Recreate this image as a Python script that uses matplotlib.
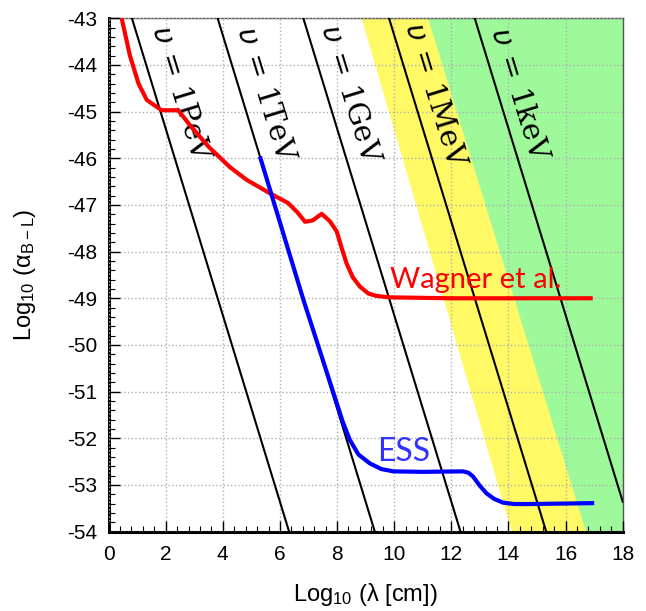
import numpy as np
import matplotlib
matplotlib.use('Agg')
import matplotlib.pyplot as plt
from matplotlib.ticker import MultipleLocator

# --- data ---
# Wagner et al. limit (red)
wagner_x = [0.46, 0.75, 1.05, 1.34, 1.86, 2.44, 2.85, 3.5, 4.25, 4.83, 5.65, 6.29,
            6.6, 6.88, 7.15, 7.46, 7.75, 7.99, 8.15, 8.33, 8.55, 8.80, 9.1, 9.38, 9.85, 12.0, 16.95]
wagner_y = [-43.0, -43.8, -44.4, -44.75, -44.97, -44.97, -45.29, -45.75, -46.19, -46.46,
            -46.75, -46.96, -47.15, -47.36, -47.33, -47.19, -47.35, -47.57, -47.9, -48.25,
            -48.55, -48.75, -48.9, -48.95, -48.98, -49.0, -49.0]

# ESS sensitivity (blue)
ess_x = [5.30, 6.82, 7.99, 8.20, 8.45, 8.75, 9.15, 9.55, 9.97, 11.0, 12.41, 12.6,
         12.76, 13.0, 13.23, 13.5, 13.81, 14.2, 14.75, 17.0]
ess_y = [-45.96, -49.03, -51.25, -51.65, -52.04, -52.35, -52.54, -52.66, -52.71, -52.72,
         -52.71, -52.74, -52.82, -53.02, -53.18, -53.3, -53.38, -53.41, -53.41, -53.39]

# mass lines: log10(alpha) = -43 - 2*(log10(lambda) - x0)
line_x0 = [0.82, 3.82, 6.82, 9.82, 12.82]
line_labels = ['1PeV', '1TeV', '1GeV', '1MeV', '1keV']
label_x = [2.52, 5.48, 8.45, 11.42, 14.36]
label_y = [-44.62, -44.62, -44.62, -44.64, -44.64]

# shaded bands: x at top (y=-43) and bottom (y=-54) edges
yellow_top = [8.86, 11.19]
yellow_bot = [14.11, 16.73]
green_top = [11.19, 18.0]
green_bot = [16.73, 18.0]

xmin, xmax = 0, 18
ymin, ymax = -54, -43

plt.rcParams['font.family'] = ['Liberation Sans', 'DejaVu Sans']
plt.rcParams['axes.unicode_minus'] = False

fig = plt.figure(figsize=(6.46, 6.11), dpi=100)
ax = fig.add_axes([0.168, 0.13, 0.796, 0.84])

# bands
ax.fill([yellow_top[0], yellow_top[1], yellow_bot[1], yellow_bot[0]],
        [ymax, ymax, ymin, ymin], color='#fff966', lw=0, zorder=1)
ax.fill([green_top[0], green_top[1], green_bot[1], green_bot[0]],
        [ymax, ymax, ymin, ymin], color='#9ef99a', lw=0, zorder=1)

# mass lines
xx = np.array([xmin, xmax])
for x0 in line_x0:
    ax.plot(xx, ymax - 2 * (xx - x0), color='black', lw=1.5, zorder=3)

# rotated labels along lines
ang = np.degrees(np.arctan2(2 * 0.84 * 6.11 / (ymax - ymin), 0.796 * 6.46 / (xmax - xmin)))
for lx, ly, lab in zip(label_x, label_y, line_labels):
    ax.text(lx, ly, r'$\upsilon\,=\,$' + lab, rotation=-ang, rotation_mode='anchor',
            ha='center', va='center', fontsize=21, family='DejaVu Serif', zorder=4)

ax.plot(wagner_x, wagner_y, color='#ff0000', lw=3, zorder=5, solid_capstyle='butt')
ax.plot(ess_x, ess_y, color='#0000ff', lw=3, zorder=5, solid_capstyle='butt')

ax.text(9.85, -48.79, 'Wagner et al.', color='#ff0000', fontsize=21, family='Lato',
        va='baseline', zorder=6)
ax.text(9.4, -52.48, 'ESS', color='#3333ff', fontsize=23, family='Lato',
        va='baseline', zorder=6)

ax.set_xlim(xmin, xmax)
ax.set_ylim(ymin, ymax)
ax.xaxis.set_major_locator(MultipleLocator(2))
ax.xaxis.set_minor_locator(MultipleLocator(0.4))
ax.yaxis.set_major_locator(MultipleLocator(1))
ax.yaxis.set_minor_locator(MultipleLocator(0.2))
ax.tick_params(which='both', direction='in', labelsize=15)
ax.tick_params(which='major', length=8, width=1)
ax.tick_params(which='minor', length=4, width=0.8)
ax.tick_params(axis='x', pad=10)
ax.tick_params(axis='y', pad=8)
ax.grid(True, which='major', color='#b0b0b0', ls=':', lw=1, zorder=2)
ax.set_axisbelow(False)

for s in ['left', 'bottom']:
    ax.spines[s].set_linewidth(2.2)
for s in ['top', 'right']:
    ax.spines[s].set_linewidth(1.0)
    ax.spines[s].set_color('#555555')

ax.set_xlabel(r'Log$\mathregular{_{10}}$ (λ [cm])', fontsize=17, labelpad=12)
ax.set_ylabel(r'Log$\mathregular{_{10}}$ (α$\mathregular{_{B-L}}$)', fontsize=17, labelpad=21)

fig.savefig('out.png', dpi=100)
